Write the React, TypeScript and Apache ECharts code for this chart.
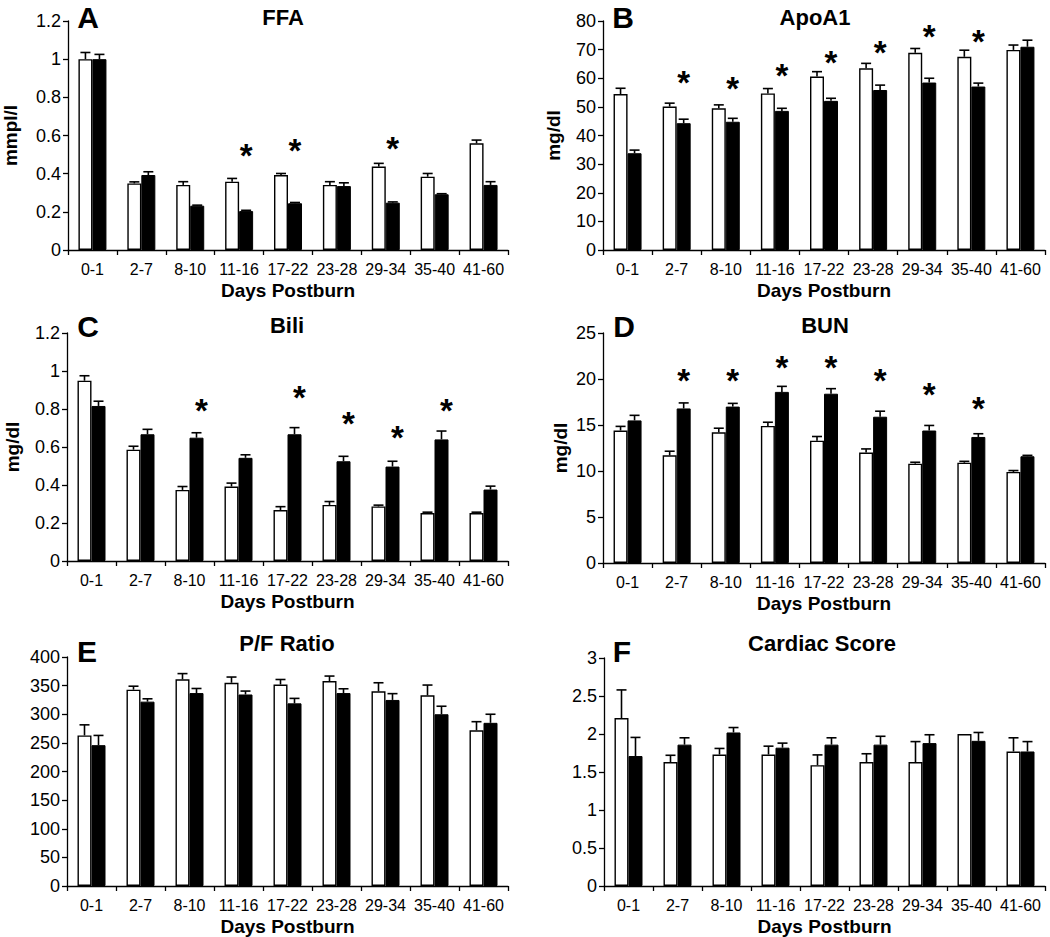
import React, { useEffect, useRef } from "react";
import * as echarts from "echarts";

// ---------- data ----------
const categories = ["0-1", "2-7", "8-10", "11-16", "17-22", "23-28", "29-34", "35-40", "41-60"];

// A: FFA (mmpl/l)
const ffaOpen = [1.0, 0.349, 0.341, 0.358, 0.393, 0.341, 0.437, 0.384, 0.559];
const ffaOpenErr = [0.035, 0.008, 0.017, 0.017, 0.008, 0.017, 0.017, 0.017, 0.017];
const ffaFilled = [1.0, 0.393, 0.232, 0.204, 0.245, 0.335, 0.248, 0.292, 0.341];
const ffaFilledErr = [0.025, 0.017, 0.003, 0.004, 0.004, 0.017, 0.004, 0.003, 0.017];
const ffaStars = [null, null, null, 0.54, 0.568, null, 0.58, null, null];

// B: ApoA1 (mg/dl)
const apoOpen = [54.5, 50.1, 49.5, 54.7, 60.6, 63.5, 68.9, 67.5, 69.9];
const apoOpenErr = [2.0, 1.2, 1.2, 1.7, 1.7, 1.7, 1.5, 2.3, 1.7];
const apoFilled = [33.8, 44.3, 44.8, 48.6, 52.1, 55.9, 58.5, 57.1, 71.0];
const apoFilledErr = [1.1, 1.4, 1.2, 0.9, 0.9, 1.7, 1.5, 1.2, 2.3];
const apoStars = [null, 61.7, 59.7, 64, 68.7, 72.2, 77.8, 75.9, null];

// C: Bili (mg/dl)
const biliOpen = [0.949, 0.586, 0.374, 0.392, 0.268, 0.295, 0.287, 0.252, 0.252];
const biliOpenErr = [0.026, 0.018, 0.018, 0.018, 0.018, 0.018, 0.007, 0.005, 0.005];
const biliFilled = [0.816, 0.667, 0.649, 0.543, 0.667, 0.525, 0.497, 0.64, 0.376];
const biliFilledErr = [0.025, 0.026, 0.026, 0.016, 0.035, 0.026, 0.028, 0.044, 0.018];
const biliStars = [null, null, 0.837, null, 0.908, 0.772, 0.697, 0.837, null];

// D: BUN (mg/dl)
const bunOpen = [14.4, 11.7, 14.2, 14.9, 13.3, 12.0, 10.8, 10.9, 9.9];
const bunOpenErr = [0.45, 0.45, 0.45, 0.4, 0.45, 0.4, 0.15, 0.15, 0.15];
const bunFilled = [15.5, 16.8, 17.0, 18.6, 18.4, 15.9, 14.4, 13.7, 11.6];
const bunFilledErr = [0.55, 0.6, 0.35, 0.6, 0.55, 0.6, 0.55, 0.35, 0.1];
const bunStars = [null, 20.8, 20.8, 22.2, 22.2, 20.8, 19.3, 17.8, null];

// E: P/F Ratio
const pfOpen = [263, 343, 361, 355, 352, 358, 340, 333, 272];
const pfOpenErr = [18.5, 6, 10, 10, 8.7, 8.7, 15, 18, 15];
const pfFilled = [246, 322, 337, 334.5, 319, 337, 325, 300, 285];
const pfFilledErr = [17, 5, 8, 6, 8.7, 7.5, 11, 14, 15];
const pfStars = [null, null, null, null, null, null, null, null, null];

// F: Cardiac Score
const cardOpen = [2.21, 1.63, 1.73, 1.73, 1.59, 1.63, 1.63, 2.0, 1.77];
const cardOpenErr = [0.37, 0.09, 0.08, 0.11, 0.135, 0.11, 0.27, 0, 0.18];
const cardFilled = [1.71, 1.86, 2.02, 1.82, 1.86, 1.86, 1.88, 1.91, 1.77];
const cardFilledErr = [0.245, 0.09, 0.065, 0.06, 0.09, 0.11, 0.11, 0.11, 0.13];
const cardStars = [null, null, null, null, null, null, null, null, null];

// y-axis ranges
const yMax = [1.2, 80, 1.2, 25, 400, 3];
const yStep = [0.2, 10, 0.2, 5, 50, 0.5];

const FONT = "'Liberation Sans', Arial, Helvetica, sans-serif";

const panels = [
  { letter: "A", title: "FFA", yName: "mmpl/l", open: ffaOpen, openErr: ffaOpenErr, filled: ffaFilled, filledErr: ffaFilledErr, stars: ffaStars,
    grid: { left: 67, top: 21, width: 441, height: 229 }, titlePos: [283, 17], letterPos: [88, 17], yNameGap: 48, starDx: 7 },
  { letter: "B", title: "ApoA1", yName: "mg/dl", open: apoOpen, openErr: apoOpenErr, filled: apoFilled, filledErr: apoFilledErr, stars: apoStars,
    grid: { left: 603, top: 21, width: 442, height: 229 }, titlePos: [815, 17], letterPos: [623, 17], yNameGap: 40, starDx: 7 },
  { letter: "C", title: "Bili", yName: "mg/dl", open: biliOpen, openErr: biliOpenErr, filled: biliFilled, filledErr: biliFilledErr, stars: biliStars,
    grid: { left: 67, top: 333, width: 441, height: 228 }, titlePos: [287, 325], letterPos: [88, 326], yNameGap: 45, starDx: 12 },
  { letter: "D", title: "BUN", yName: "mg/dl", open: bunOpen, openErr: bunOpenErr, filled: bunFilled, filledErr: bunFilledErr, stars: bunStars,
    grid: { left: 603, top: 333, width: 442, height: 230 }, titlePos: [825, 325], letterPos: [624, 326], yNameGap: 33, starDx: 7 },
  { letter: "E", title: "P/F Ratio", yName: "", open: pfOpen, openErr: pfOpenErr, filled: pfFilled, filledErr: pfFilledErr, stars: pfStars,
    grid: { left: 67, top: 657, width: 441, height: 230 }, titlePos: [287, 643], letterPos: [87, 651], yNameGap: 40, starDx: 7 },
  { letter: "F", title: "Cardiac Score", yName: "", open: cardOpen, openErr: cardOpenErr, filled: cardFilled, filledErr: cardFilledErr, stars: cardStars,
    grid: { left: 604, top: 658, width: 441, height: 229 }, titlePos: [822, 643], letterPos: [622, 651], yNameGap: 40, starDx: 7 },
];

const BAR_W = 14;

function buildOption() {
  const grid: any[] = [];
  const xAxis: any[] = [];
  const yAxis: any[] = [];
  const series: any[] = [];
  const graphic: any[] = [];

  panels.forEach((p, i) => {
    grid.push({ ...p.grid, containLabel: false });
    xAxis.push({
      type: "category",
      gridIndex: i,
      data: categories,
      boundaryGap: true,
      name: "Days Postburn",
      nameLocation: "middle",
      nameGap: 31,
      nameTextStyle: { fontFamily: FONT, fontSize: 19, fontWeight: "bold", color: "#000" },
      axisLine: { show: true, lineStyle: { color: "#000", width: 1.3 } },
      axisTick: { show: true, alignWithLabel: false, length: 5, lineStyle: { color: "#000", width: 1.3 } },
      axisLabel: { fontFamily: FONT, fontSize: 16, color: "#000", margin: 11, interval: 0 },
      splitLine: { show: false },
    });
    yAxis.push({
      type: "value",
      gridIndex: i,
      min: 0,
      max: yMax[i],
      interval: yStep[i],
      name: p.yName,
      nameLocation: "middle",
      nameRotate: 90,
      nameGap: p.yNameGap,
      nameTextStyle: { fontFamily: FONT, fontSize: 19, fontWeight: "bold", color: "#000" },
      axisLine: { show: true, lineStyle: { color: "#000", width: 1.3 } },
      axisTick: { show: true, inside: false, length: 5, lineStyle: { color: "#000", width: 1.3 } },
      axisLabel: {
        fontFamily: FONT, fontSize: 18, color: "#000", margin: 7,
        formatter: (v: number) => String(Math.round(v * 1000) / 1000),
      },
      splitLine: { show: false },
    });

    series.push({
      type: "bar",
      name: "open",
      xAxisIndex: i,
      yAxisIndex: i,
      data: p.open,
      barWidth: BAR_W,
      barGap: "0%",
      itemStyle: { color: "#fff", borderColor: "#000", borderWidth: 1.4 },
      z: 2,
    });
    series.push({
      type: "bar",
      name: "filled",
      xAxisIndex: i,
      yAxisIndex: i,
      data: p.filled,
      barWidth: BAR_W,
      barGap: "0%",
      itemStyle: { color: "#000", borderColor: "#000", borderWidth: 1 },
      z: 2,
    });

    const errSeries = (vals: number[], errs: number[], dx: number) => ({
      type: "custom",
      xAxisIndex: i,
      yAxisIndex: i,
      z: 3,
      encode: { x: 0, y: 1 },
      data: vals.map((v, k) => [k, v, errs[k]]),
      renderItem: (params: any, api: any) => {
        const k = api.value(0);
        const v = api.value(1);
        const e = api.value(2);
        if (!(e > 0)) return null;
        const b = api.coord([k, v]);
        const t = api.coord([k, v + e]);
        const x = b[0] + dx;
        return {
          type: "group",
          children: [
            { type: "line", shape: { x1: x, y1: b[1], x2: x, y2: t[1] }, style: { stroke: "#000", lineWidth: 1.6 } },
            { type: "line", shape: { x1: x - 5, y1: t[1], x2: x + 5, y2: t[1] }, style: { stroke: "#000", lineWidth: 1.6 } },
          ],
        };
      },
    });
    series.push(errSeries(p.open, p.openErr, -BAR_W / 2));
    series.push(errSeries(p.filled, p.filledErr, BAR_W / 2));

    const starData = p.stars
      .map((s, k) => (s == null ? null : [k, s]))
      .filter((d) => d != null);
    if (starData.length) {
      series.push({
        type: "custom",
        xAxisIndex: i,
        yAxisIndex: i,
        z: 4,
        encode: { x: 0, y: 1 },
        data: starData,
        renderItem: (params: any, api: any) => {
          const c = api.coord([api.value(0), api.value(1)]);
          return {
            type: "text",
            x: c[0] + p.starDx,
            y: c[1] + 9,
            style: {
              text: "*",
              fontFamily: FONT,
              fontSize: 33,
              fontWeight: "bold",
              fill: "#000",
              align: "center",
              verticalAlign: "middle",
            },
          };
        },
      });
    }

    graphic.push({
      type: "text",
      x: p.titlePos[0],
      y: p.titlePos[1],
      style: { text: p.title, fontFamily: FONT, fontSize: 22, fontWeight: "bold", fill: "#000", align: "center", verticalAlign: "middle" },
    });
    graphic.push({
      type: "text",
      x: p.letterPos[0],
      y: p.letterPos[1],
      style: { text: p.letter, fontFamily: FONT, fontSize: 30, fontWeight: "bold", fill: "#000", align: "center", verticalAlign: "middle" },
    });
  });

  return {
    animation: false,
    backgroundColor: "#fff",
    grid,
    xAxis,
    yAxis,
    series,
    graphic,
  };
}

export default function App() {
  const ref = useRef<HTMLDivElement>(null);
  useEffect(() => {
    if (!ref.current) return;
    const chart = echarts.init(ref.current, undefined, { renderer: "svg" });
    chart.setOption(buildOption() as any);
    return () => chart.dispose();
  }, []);
  return (
    <div
      ref={ref}
      style={{ position: "absolute", left: 0, top: 0, width: 1050, height: 937, background: "#fff" }}
    />
  );
}
